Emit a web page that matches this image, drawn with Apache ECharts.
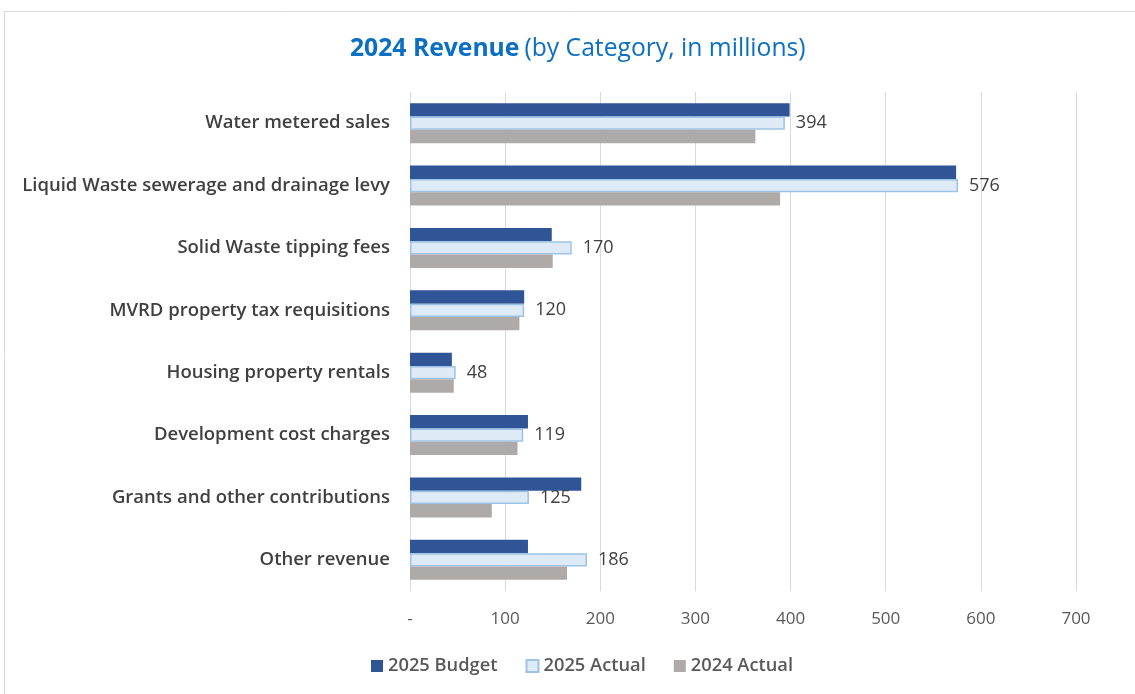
<!DOCTYPE html>
<html>
<head>
<meta charset="utf-8">
<title>2024 Revenue</title>
<script src="https://cdn.jsdelivr.net/npm/echarts@6/dist/echarts.min.js"></script>
<style>
  html, body { margin: 0; padding: 0; background: #ffffff; }
  #chart { width: 1135px; height: 694px; }
</style>
</head>
<body>
<div id="chart"></div>
<script>
// Revenue categories, top to bottom
const categories = [
  'Water metered sales',
  'Liquid Waste sewerage and drainage levy',
  'Solid Waste tipping fees',
  'MVRD property tax requisitions',
  'Housing property rentals',
  'Development cost charges',
  'Grants and other contributions',
  'Other revenue'
];

// Values in millions
const budget2025 = [399, 574, 149, 120, 44, 124, 180, 124];
const actual2025 = [394, 576, 170, 120, 48, 119, 125, 186];
const actual2024 = [363, 389, 150, 115, 46, 113, 86, 165];

const seriesNames = ['2025 Budget', '2025 Actual', '2024 Actual'];
const xTicks = [0, 100, 200, 300, 400, 500, 600, 700];

const FONT = '"Open Sans", "Noto Sans", sans-serif';

const chart = echarts.init(document.getElementById('chart'), null, { renderer: 'canvas' });

chart.setOption({
  backgroundColor: '#ffffff',
  animation: false,
  graphic: [{
    type: 'rect',
    shape: { x: 4.5, y: 11.5, width: 1300, height: 900 },
    style: { fill: 'none', stroke: '#d9d9d9', lineWidth: 1 },
    silent: true
  }],
  title: {
    text: '{b|2024 Revenue} {n|(by Category, in millions)}',
    left: 345,
    top: 31,
    textStyle: {
      rich: {
        b: { fontFamily: FONT, fontSize: 24.7, fontWeight: 'bold', color: '#0b6fc2' },
        n: { fontFamily: FONT, fontSize: 24.7, fontWeight: 'normal', color: '#0b6fc2' }
      }
    }
  },
  legend: {
    data: seriesNames,
    bottom: 14,
    left: 366,
    itemWidth: 12,
    itemHeight: 12,
    itemGap: 28,
    icon: 'rect',
    textStyle: { fontFamily: FONT, fontSize: 18.3, fontWeight: 600, color: '#595959' }
  },
  grid: { left: 410, right: 59, top: 92, bottom: 103, containLabel: false },
  xAxis: {
    type: 'value',
    min: xTicks[0],
    max: xTicks[xTicks.length - 1],
    interval: 100,
    axisLine: { show: false },
    axisTick: { show: false },
    splitLine: { show: true, lineStyle: { color: '#d9d9d9', width: 1 } },
    axisLabel: {
      margin: 20,
      fontFamily: FONT,
      fontSize: 17,
      color: '#595959',
      formatter: v => (v === 0 ? '-' : String(v))
    }
  },
  yAxis: {
    type: 'category',
    data: categories,
    inverse: true,
    axisLine: { show: false },
    axisTick: { show: false },
    axisLabel: {
      margin: 20,
      fontFamily: FONT,
      fontSize: 18.5,
      fontWeight: 600,
      color: '#404040'
    }
  },
  series: [
    {
      name: seriesNames[0],
      type: 'bar',
      data: budget2025,
      barGap: '0%',
      barCategoryGap: '36%',
      itemStyle: { color: '#2f5597' }
    },
    {
      name: seriesNames[1],
      type: 'bar',
      data: actual2025,
      barGap: '0%',
      barCategoryGap: '36%',
      itemStyle: { color: '#deebf7', borderColor: '#9dc3e6', borderWidth: 1.5 },
      label: {
        show: true,
        position: 'right',
        distance: 11,
        fontFamily: FONT,
        fontSize: 18,
        color: '#404040'
      }
    },
    {
      name: seriesNames[2],
      type: 'bar',
      data: actual2024,
      barGap: '0%',
      barCategoryGap: '36%',
      itemStyle: { color: '#aeaaaa' }
    }
  ]
});
</script>
</body>
</html>
